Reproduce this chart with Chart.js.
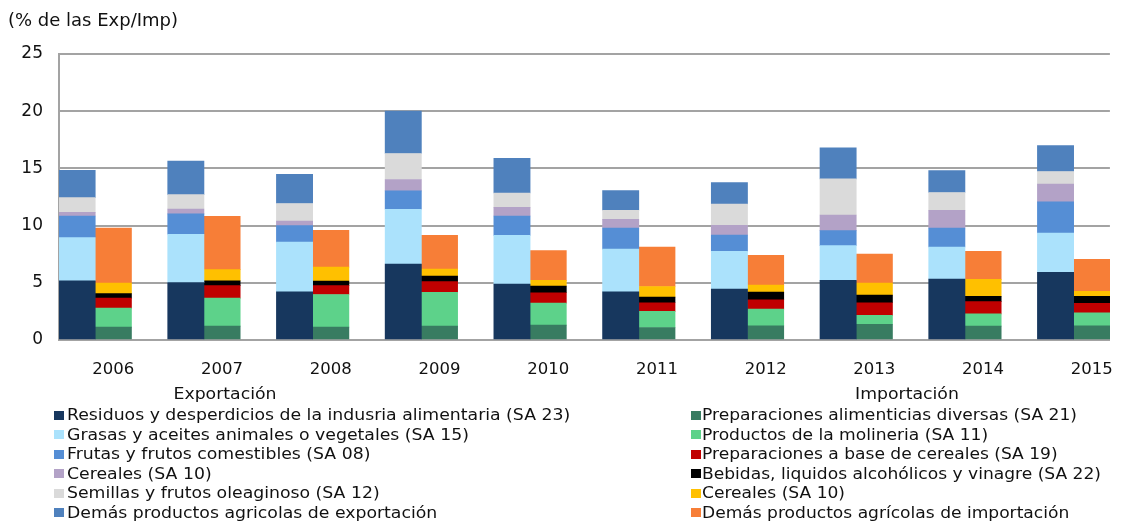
<!DOCTYPE html>
<html>
<head>
<meta charset="utf-8">
<script src="https://cdn.jsdelivr.net/npm/chart.js@4.4.0/dist/chart.umd.min.js"></script>
<style>
  body { margin: 0; background: #fff; font-family: "DejaVu Sans", Verdana, sans-serif; color: #111; }
  #wrap { position: relative; width: 1125px; height: 527px; }
  #title { position: absolute; left: 8px; top: 10px; font-size: 18px; line-height: 20px; white-space: nowrap; }
  .lg { position: absolute; font-size: 16px; line-height: 19.5px; white-space: nowrap; }
  .lg .txt { display: inline-block; transform-origin: left center; }
  .hd { position: absolute; font-size: 16px; line-height: 19.5px; white-space: nowrap; transform: translateX(-50%); }
  .hd span { display: inline-block; transform: scaleX(1.08); }
  .sw { position: absolute; width: 10px; height: 9px; }
</style>
</head>
<body>
<div id="wrap">
  <canvas id="chart" width="1125" height="527"></canvas>
  <div id="title">(% de las Exp/Imp)</div>
  <div id="legend"></div>
</div>
<script>
/* ---------- DATA ---------- */
const years = ["2006","2007","2008","2009","2010","2011","2012","2013","2014","2015"];

// Exportación (% de las exportaciones)
const expLabels = [
  "Residuos y desperdicios de la indusria alimentaria (SA 23)",
  "Grasas y aceites animales o vegetales (SA 15)",
  "Frutas y frutos comestibles (SA 08)",
  "Cereales (SA 10)",
  "Semillas y frutos oleaginoso (SA 12)",
  "Demás productos agricolas de exportación"
];
const expColors = ["#17375E", "#ABE2FC", "#558ED5", "#B3A2C7", "#DADADA", "#4F81BD"];
const expResiduos = [5.18, 5.01, 4.22, 6.64, 4.89, 4.22, 4.45, 5.21, 5.32, 5.91];
const expGrasas   = [3.77, 4.23, 4.34, 4.79, 4.26, 3.73, 3.30, 3.04, 2.81, 3.44];
const expFrutas   = [1.89, 1.78, 1.44, 1.60, 1.69, 1.84, 1.43, 1.31, 1.66, 2.72];
const expCereales = [0.32, 0.43, 0.40, 1.00, 0.76, 0.76, 0.85, 1.37, 1.55, 1.55];
const expSemillas = [1.29, 1.26, 1.53, 2.27, 1.25, 0.79, 1.86, 3.15, 1.55, 1.11];
const expDemas    = [2.39, 2.92, 2.56, 3.71, 3.02, 1.72, 1.88, 2.72, 1.93, 2.27];

// Importación (% de las importaciones)
const impLabels = [
  "Preparaciones alimenticias diversas (SA 21)",
  "Productos de la molineria (SA 11)",
  "Preparaciones a base de cereales (SA 19)",
  "Bebidas, liquidos alcohólicos y vinagre (SA 22)",
  "Cereales (SA 10)",
  "Demás productos agrícolas de importación"
];
const impColors = ["#387C61", "#5DD28A", "#C00000", "#000000", "#FFC000", "#F77E37"];
const impPrepAlim     = [1.12, 1.21, 1.12, 1.21, 1.30, 1.09, 1.24, 1.38, 1.21, 1.24];
const impMolineria    = [1.66, 2.45, 2.86, 2.95, 1.92, 1.41, 1.46, 0.77, 1.08, 1.14];
const impPrepCereales = [0.88, 1.09, 0.77, 0.94, 0.91, 0.76, 0.82, 1.11, 1.06, 0.82];
const impBebidas      = [0.39, 0.43, 0.40, 0.49, 0.58, 0.49, 0.67, 0.66, 0.46, 0.61];
const impCereales     = [0.92, 0.97, 1.22, 0.61, 0.50, 0.93, 0.61, 1.05, 1.49, 0.44];
const impDemas        = [4.82, 4.66, 3.22, 2.95, 2.60, 3.45, 2.60, 2.54, 2.45, 2.80];

const yTicks = [0, 5, 10, 15, 20, 25];

/* ---------- BUILD SLOTS ---------- */
// each year = export column, import column, empty column (none after the last year)
const slots = [];
years.forEach((y, i) => {
  slots.push({ year: y, kind: "exp", i });
  slots.push({ year: y, kind: "imp", i });
  if (i < years.length - 1) slots.push({ year: y, kind: "gap", i });
});
const slotLabels = slots.map(s => s.kind === "imp" ? s.year : "");

function spread(values, kind){
  return slots.map(s => s.kind === kind ? values[s.i] : null);
}

const expSeries = [expResiduos, expGrasas, expFrutas, expCereales, expSemillas, expDemas];
const impSeries = [impPrepAlim, impMolineria, impPrepCereales, impBebidas, impCereales, impDemas];

const datasets = [];
expSeries.forEach((vals, k) => datasets.push({
  label: expLabels[k], data: spread(vals, "exp"), backgroundColor: expColors[k]
}));
impSeries.forEach((vals, k) => datasets.push({
  label: impLabels[k], data: spread(vals, "imp"), backgroundColor: impColors[k]
}));
datasets.forEach(d => {
  d.barPercentage = 1;
  d.categoryPercentage = 1;
  d.borderWidth = 0;
});

/* ---------- CHART ---------- */
const gridColor = "#A3A3A3";

new Chart(document.getElementById("chart"), {
  type: "bar",
  data: { labels: slotLabels, datasets },
  options: {
    responsive: false,
    animation: false,
    layout: { padding: { top: 54, right: 13, left: 0, bottom: 0 } },
    plugins: { legend: { display: false }, tooltip: { enabled: false } },
    scales: {
      x: {
        stacked: true,
        grid: { display: false },
        border: { display: true, color: gridColor, width: 2 },
        ticks: { autoSkip: false, maxRotation: 0, color: "#111",
                 font: { family: "DejaVu Sans", size: 16.5 }, padding: 12 },
        afterFit: s => { s.height = 187; }
      },
      y: {
        stacked: true,
        min: 0, max: 25,
        afterBuildTicks: s => { s.ticks = yTicks.map(v => ({ value: v })); },
        grid: { color: gridColor, lineWidth: 2, drawTicks: false },
        border: { display: true, color: gridColor, width: 2 },
        ticks: { color: "#111", font: { family: "DejaVu Sans", size: 17 }, padding: 16 },
        afterFit: s => { s.width = 59; }
      }
    }
  }
});

/* ---------- LEGEND ---------- */
function buildLegend(head, headX, swX, txtX, stretch, labels, colors){
  const box = document.getElementById("legend");
  let html = `<div class="hd" style="left:${headX}px; top:384px;"><span>${head}</span></div>`;
  labels.forEach((l, k) => {
    const top = 405 + k * 19.5;
    html += `<div class="sw" style="left:${swX}px; top:${top + 5.5}px; background:${colors[k]}"></div>`;
    html += `<div class="lg" style="left:${txtX}px; top:${top}px;"><span class="txt" style="transform:scaleX(${stretch})">${l}</span></div>`;
  });
  box.innerHTML += html;
}
buildLegend("Exportación", 225, 54, 67, 1.08, expLabels, expColors);
buildLegend("Importación", 907, 691, 702, 1.068, impLabels, impColors);
</script>
</body>
</html>
